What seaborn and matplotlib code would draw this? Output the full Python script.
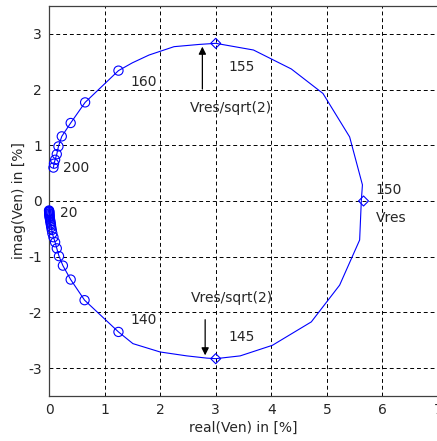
import numpy as np
import pandas as pd
import matplotlib
matplotlib.use("Agg")
import matplotlib.pyplot as plt
import seaborn as sns

# frequency markers every 5 Hz
low_freq = [20, 25, 30, 35, 40, 45, 50, 55, 60, 65, 70, 75, 80, 85, 90, 95,
            100, 105, 110, 115, 120, 125, 130, 135, 140]
low_re = [0.001, 0.002, 0.003, 0.004, 0.005, 0.006, 0.008, 0.010, 0.012, 0.015,
          0.020, 0.025, 0.030, 0.035, 0.040, 0.050, 0.060, 0.080, 0.110, 0.140,
          0.180, 0.250, 0.390, 0.640, 1.250]
low_im = [-0.17, -0.18, -0.19, -0.20, -0.22, -0.23, -0.25, -0.27, -0.29, -0.31,
          -0.34, -0.37, -0.40, -0.43, -0.47, -0.52, -0.58, -0.65, -0.74, -0.85,
          -0.99, -1.16, -1.41, -1.78, -2.35]

high_freq = [160, 165, 170, 175, 180, 185, 190, 195, 200]
high_re = [1.25, 0.65, 0.39, 0.23, 0.17, 0.14, 0.11, 0.09, 0.08]
high_im = [2.34, 1.77, 1.40, 1.16, 0.98, 0.84, 0.74, 0.67, 0.60]

# resonance and half power points (145, 150, 155 Hz)
res_freq = [145, 150, 155]
res_re = [3.00, 5.66, 3.00]
res_im = [-2.83, 0.00, 2.83]

# sweep vertices between the marked points
seg_140_145_re = [1.51, 2.00, 2.48, 2.84]
seg_140_145_im = [-2.56, -2.71, -2.78, -2.82]
seg_145_150_re = [3.44, 4.02, 4.72, 5.23, 5.59, 5.62]
seg_145_150_im = [-2.78, -2.59, -2.17, -1.51, -0.70, 0.00]
seg_150_155_re = [5.64, 5.41, 4.93, 4.36, 3.68]
seg_150_155_im = [0.29, 1.15, 1.93, 2.37, 2.71]
seg_155_160_re = [2.70, 2.25, 1.80, 1.50]
seg_155_160_im = [2.81, 2.77, 2.62, 2.48]

curve_re = (low_re + seg_140_145_re + [res_re[0]] + seg_145_150_re
            + seg_150_155_re + [res_re[2]] + seg_155_160_re + high_re)
curve_im = (low_im + seg_140_145_im + [res_im[0]] + seg_145_150_im
            + seg_150_155_im + [res_im[2]] + seg_155_160_im + high_im)
curve = pd.DataFrame({"re": curve_re, "im": curve_im})
marks = pd.DataFrame({"re": low_re + high_re, "im": low_im + high_im})
res = pd.DataFrame({"re": res_re, "im": res_im})

sns.set_style("white")
plt.rcParams["font.family"] = ["DejaVu Sans"]
plt.rcParams["axes.unicode_minus"] = False

fig = plt.figure(figsize=(4.37, 4.41), dpi=100)
ax = fig.add_axes([49 / 437, 1 - 396 / 441, 389 / 437, 390 / 441])

sns.lineplot(data=curve, x="re", y="im", sort=False, estimator=None,
             color="blue", linewidth=0.8, ax=ax)
sns.scatterplot(data=marks, x="re", y="im", marker="o", s=44, clip_on=False,
                facecolor="none", edgecolor="blue", linewidth=0.8, ax=ax, zorder=3)
sns.scatterplot(data=res, x="re", y="im", marker="D", s=26, clip_on=False,
                facecolor="none", edgecolor="blue", linewidth=0.8, ax=ax, zorder=3)

fs = 10
ax.text(1.46, 2.14, "160", fontsize=fs, va="center")
ax.text(0.25, 0.59, "200", fontsize=fs, va="center")
ax.text(0.20, -0.22, "20", fontsize=fs, va="center")
ax.text(1.46, -2.14, "140", fontsize=fs, va="center")
ax.text(3.22, 2.41, "155", fontsize=fs, va="center")
ax.text(3.22, -2.44, "145", fontsize=fs, va="center")
ax.text(5.88, 0.20, "150", fontsize=fs, va="center")
ax.text(5.88, -0.30, "Vres", fontsize=fs, va="center")

arrow = dict(arrowstyle="-|>", color="black", lw=0.9, mutation_scale=11)
ax.annotate("", xy=(2.76, 2.82), xytext=(2.76, 1.96), arrowprops=arrow)
ax.annotate("", xy=(2.81, -2.82), xytext=(2.81, -2.08), arrowprops=arrow)
ax.text(3.27, 1.67, "Vres/sqrt(2)", fontsize=fs, ha="center", va="center")
ax.text(3.29, -1.74, "Vres/sqrt(2)", fontsize=fs, ha="center", va="center")

ax.set_xlim(0, 7)
ax.set_ylim(-3.5, 3.5)
ax.set_xticks(range(0, 8))
ax.set_yticks(range(-3, 4))
ax.grid(True, color="black", linestyle=(0, (4, 3)), linewidth=0.7)
ax.tick_params(direction="in", length=4, labelsize=fs, color="0.2", pad=5)
for s in ax.spines.values():
    s.set_color("0.25")
    s.set_linewidth(0.9)
ax.set_xlabel("real(Ven) in [%]", fontsize=fs, labelpad=3)
ax.set_ylabel("imag(Ven) in [%]", fontsize=fs, labelpad=2)

fig.savefig("out.png", dpi=100)
